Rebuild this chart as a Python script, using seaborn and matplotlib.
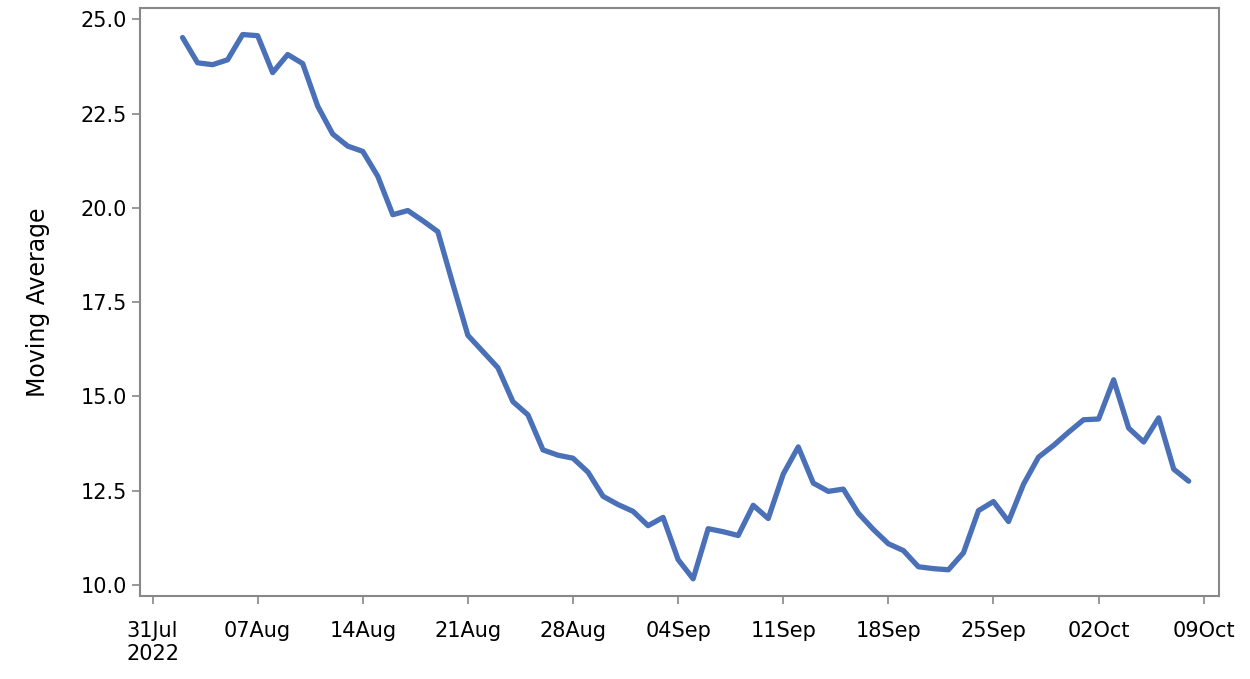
import pandas as pd
import matplotlib.pyplot as plt
import seaborn as sns

# Daily moving average, 02 Aug 2022 to 08 Oct 2022
start_date = '2022-08-02'
moving_avg = [
    24.52, 23.85, 23.80, 23.93, 24.60, 24.57, 23.59, 24.07, 23.83, 22.70,
    21.96, 21.64, 21.50, 20.84, 19.82, 19.93, 19.66, 19.37, 17.98, 16.62,
    16.19, 15.76, 14.86, 14.51, 13.58, 13.44, 13.36, 12.99, 12.35, 12.13,
    11.95, 11.57, 11.79, 10.67, 10.16, 11.49, 11.41, 11.31, 12.11, 11.76,
    12.94, 13.66, 12.70, 12.48, 12.54, 11.90, 11.47, 11.09, 10.91, 10.48,
    10.43, 10.40, 10.85, 11.97, 12.21, 11.68, 12.67, 13.39, 13.70, 14.05,
    14.38, 14.40, 15.44, 14.16, 13.79, 14.43, 13.07, 12.75,
]
tick_dates = ['2022-07-31', '2022-08-07', '2022-08-14', '2022-08-21', '2022-08-28',
              '2022-09-04', '2022-09-11', '2022-09-18', '2022-09-25', '2022-10-02',
              '2022-10-09']
tick_labels = ['31Jul\n2022', '07Aug', '14Aug', '21Aug', '28Aug', '04Sep',
               '11Sep', '18Sep', '25Sep', '02Oct', '09Oct']

df = pd.DataFrame({
    'date': pd.date_range(start_date, periods=len(moving_avg), freq='D'),
    'value': moving_avg,
})

sns.set_style('white')
plt.rcParams['font.family'] = ['DejaVu Sans']

fig, ax = plt.subplots(figsize=(12.5, 6.79), dpi=100)
sns.lineplot(data=df, x='date', y='value', color='#4a70b8', linewidth=3.8, ax=ax)

ax.set_xlim(pd.Timestamp('2022-07-30 04:00'), pd.Timestamp('2022-10-10'))
ax.set_ylim(9.7, 25.3)
ax.set_xticks(pd.to_datetime(tick_dates))
ax.set_xticklabels(tick_labels, fontsize=15, color='black')
for lbl in ax.get_xticklabels():
    lbl.set_horizontalalignment('center')
ax.set_yticks([10.0, 12.5, 15.0, 17.5, 20.0, 22.5, 25.0])
ax.set_yticklabels(['10.0', '12.5', '15.0', '17.5', '20.0', '22.5', '25.0'],
                   fontsize=15, color='black')
ax.set_xlabel('')
ax.set_ylabel('Moving Average', fontsize=17, labelpad=22, color='black')
ax.tick_params(axis='x', pad=12)
ax.tick_params(axis='both', direction='out', length=6, width=1.2, color='#888888',
               bottom=True, left=True)

for sp in ax.spines.values():
    sp.set_color('#888888')
    sp.set_linewidth(1.5)

plt.subplots_adjust(left=0.112, right=0.975, top=0.988, bottom=0.122)
plt.savefig('out.png', dpi=100)
plt.close()
